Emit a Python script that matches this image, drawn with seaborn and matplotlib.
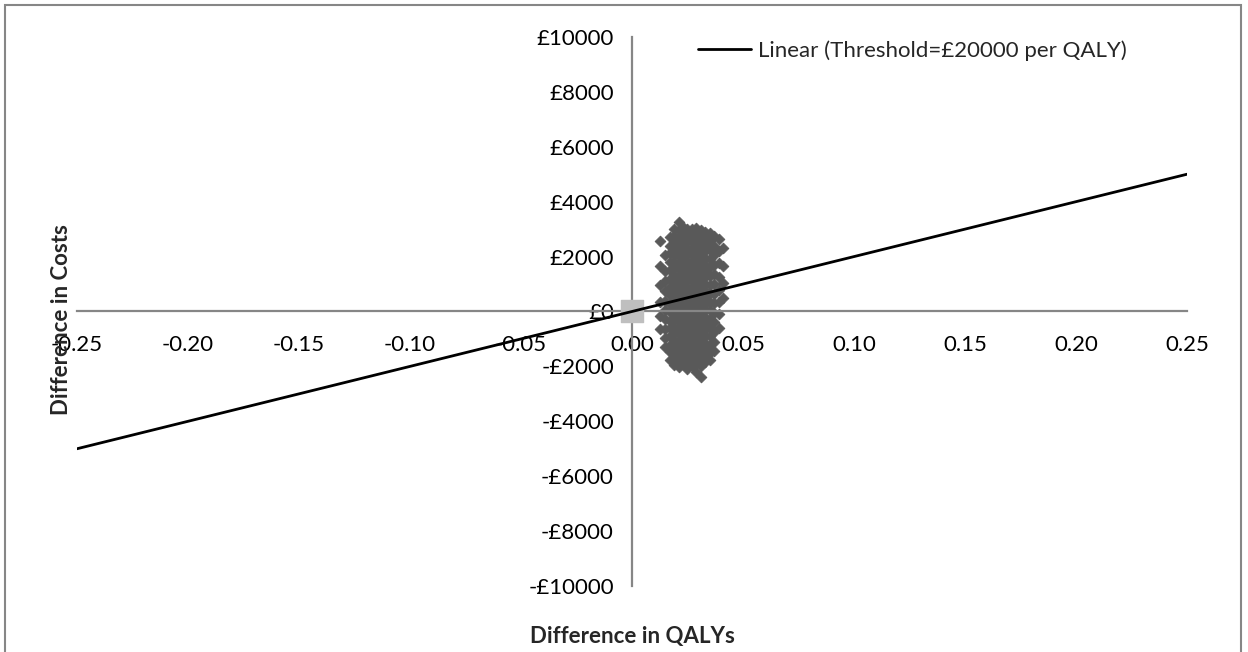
import matplotlib
matplotlib.use("Agg")
import matplotlib.pyplot as plt
import seaborn as sns
import pandas as pd
from matplotlib.patches import Rectangle

# simulated cost/QALY differences, read column by column off the cloud
qaly_cols = [0.0125, 0.015, 0.017, 0.019, 0.021, 0.023, 0.025, 0.027,
             0.029, 0.031, 0.033, 0.035, 0.037, 0.039, 0.041]
cost_cols = [
    [2550, 1650, 950, 350, -150, -650],
    [2050, 1480, 1120, 760, 380, 60, -280, -640, -960, -1310],
    [2720, 2390, 2130, 1790, 1520, 1190, 880, 610, 270, -20, -330, -590, -910, -1220, -1480, -1760],
    [3010, 2760, 2520, 2280, 2050, 1810, 1570, 1330, 1090, 860, 620, 380, 150, -90, -320, -560,
     -800, -1040, -1280, -1510, -1750, -1950],
    [3250, 2960, 2730, 2490, 2260, 2010, 1780, 1540, 1300, 1070, 830, 600, 360, 120, -110, -350,
     -590, -820, -1060, -1300, -1540, -1780, -2010],
    [3080, 2840, 2610, 2370, 2130, 1890, 1660, 1420, 1190, 950, 710, 470, 240, 0, -240, -470,
     -710, -950, -1190, -1420, -1660, -1900],
    [3020, 2790, 2550, 2310, 2080, 1840, 1600, 1370, 1130, 890, 650, 420, 180, -60, -300, -530,
     -770, -1010, -1250, -1490, -1720, -1960, -2100],
    [3000, 2770, 2530, 2290, 2060, 1820, 1580, 1350, 1110, 870, 640, 400, 160, -80, -310, -550,
     -790, -1030, -1260, -1500, -1740, -1980],
    [3050, 2820, 2580, 2340, 2100, 1870, 1630, 1390, 1160, 920, 680, 440, 210, -30, -270, -500,
     -740, -980, -1210, -1450, -1690, -1920, -2200],
    [2980, 2740, 2510, 2270, 2030, 1800, 1560, 1320, 1080, 850, 610, 370, 140, -100, -340, -580,
     -810, -1050, -1290, -1520, -1760, -2000, -2400],
    [2900, 2660, 2420, 2190, 1950, 1710, 1480, 1240, 1000, 760, 530, 290, 50, -190, -420, -660,
     -900, -1140, -1370, -1610, -1850],
    [2870, 2560, 2230, 1920, 1610, 1290, 980, 670, 350, 40, -270, -580, -900, -1210, -1530, -1760],
    [2750, 2400, 2050, 1700, 1350, 1000, 650, 300, -50, -400, -750, -1100, -1450],
    [2650, 2200, 1750, 1250, 800, 350, -100, -600],
    [2300, 1650, 1050, 500],
]

# threshold line (£20000 per QALY)
line_qaly = [-0.25, 0.25]
line_cost = [-5000, 5000]

x_ticks = [-0.25, -0.20, -0.15, -0.10, -0.05, 0.00, 0.05, 0.10, 0.15, 0.20, 0.25]
y_ticks = [-10000, -8000, -6000, -4000, -2000, 0, 2000, 4000, 6000, 8000, 10000]

rows = []
for qx, costs in zip(qaly_cols, cost_cols):
    for c in costs:
        rows.append((qx, c))
cloud = pd.DataFrame(rows, columns=["qaly", "cost"])
line_df = pd.DataFrame({"qaly": line_qaly, "cost": line_cost})

sns.set_theme(style="white")
plt.rcParams["font.family"] = ["Lato", "DejaVu Sans"]

fig = plt.figure(figsize=(12.48, 6.52), dpi=100)
ax = fig.add_axes([0.0617, 0.1012, 0.8894, 0.8421])

sns.scatterplot(data=cloud, x="qaly", y="cost", marker="D", s=30, color="#595959",
                edgecolor="#595959", linewidth=0.6, legend=False, ax=ax, zorder=2)
ax.scatter([0], [0], marker="s", s=230, color="#BFBFBF", zorder=3)
sns.lineplot(data=line_df, x="qaly", y="cost", color="black", linewidth=2,
             label="Linear (Threshold=£20000 per QALY)", ax=ax, zorder=4)

ax.set_xlim(-0.25, 0.25)
ax.set_ylim(-10000, 10000)
ax.set_xticks(x_ticks)
ax.set_yticks(y_ticks)
ax.set_xticklabels([f"{v:.2f}" for v in x_ticks])
ax.set_yticklabels([("-£" if v < 0 else "£") + str(abs(v)) for v in y_ticks])

for side in ["top", "right"]:
    ax.spines[side].set_visible(False)
ax.spines["left"].set_position(("data", 0))
ax.spines["bottom"].set_position(("data", 0))
for side in ["left", "bottom"]:
    ax.spines[side].set_color("#868686")
    ax.spines[side].set_linewidth(1.6)

ax.tick_params(axis="x", direction="in", length=5, width=1.6, color="#868686",
               labelsize=16, pad=17, labelcolor="black")
ax.tick_params(axis="y", direction="out", length=5, width=1.6, color="#868686",
               labelsize=16, pad=8, labelcolor="black")
ax.set_xlabel("")
ax.set_ylabel("")

fig.text(632 / 1248, 1 - 637 / 652, "Difference in QALYs", ha="center", va="center",
         fontsize=16, fontweight="bold")
fig.text(62 / 1248, 1 - 320 / 652, "Difference in Costs", ha="center", va="center",
         rotation=90, fontsize=16, fontweight="bold")

ax.legend(loc="upper left", bbox_to_anchor=(698 / 1248, 1 - 40 / 652),
          bbox_transform=fig.transFigure, frameon=False, fontsize=16,
          handlelength=2.4, handletextpad=0.3, borderpad=0, borderaxespad=0)

fig.patches.append(Rectangle((5 / 1248, -0.05), 1236 / 1248, 1.05 - 5 / 652,
                             transform=fig.transFigure, fill=False,
                             edgecolor="#868686", linewidth=1.5))

fig.savefig("out.png", dpi=100)
